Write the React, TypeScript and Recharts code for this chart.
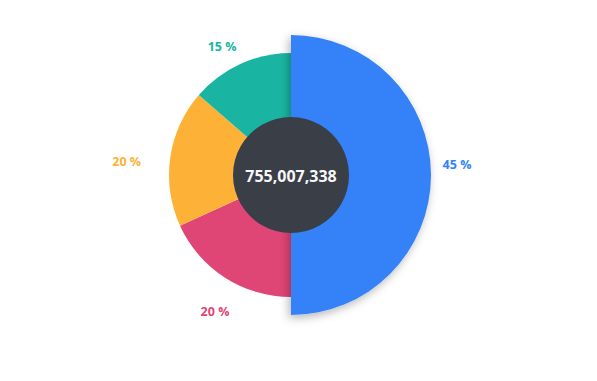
import { Cell, Label, Pie, PieChart } from 'recharts';

const NAMES = ['Blue', 'Pink', 'Orange', 'Teal'];
const VALUES = [45, 20, 20, 15];
const COLORS = ['#3481f7', '#df4575', '#fdb136', '#19b5a2'];
const TOTAL_LABEL = '755,007,338';

const slices = NAMES.map((name, i) => ({ name, value: VALUES[i], color: COLORS[i] }));
const main = slices.slice(0, 1);
const rest = slices.slice(1);
const hub = [{ name: 'total', value: 1 }];

const RADIAN = Math.PI / 180;
const CX = 291;
const CY = 175;
const FONT = "'Open Sans', sans-serif";

// labels sit on a squashed ring round the pie
function renderLabel(p: any) {
  const cos = Math.cos(p.midAngle * RADIAN);
  const up = Math.sin(p.midAngle * RADIAN);
  const rx = up >= 0 ? 166 : 166 - 36 * up * up;
  const x = p.cx + rx * cos;
  const y = p.cy - 11 * cos * cos - up * Math.abs(up) * (up > 0 ? 153 : 198);
  return (
    <text
      x={x}
      y={y}
      fill={p.payload.color}
      textAnchor="middle"
      dominantBaseline="central"
      fontSize={12.5}
      fontWeight={700}
      fontFamily={FONT}
    >
      {`${p.value} %`}
    </text>
  );
}

function CenterText() {
  return (
    <text
      x={CX}
      y={CY + 1}
      fill="#f7f7f7"
      textAnchor="middle"
      dominantBaseline="central"
      fontSize={16}
      fontWeight={700}
      fontFamily={FONT}
    >
      {TOTAL_LABEL}
    </text>
  );
}

export default function App() {
  return (
    <div style={{ position: 'absolute', left: 0, top: 0, width: 597, height: 381, background: '#fff' }}>
      <PieChart width={597} height={381} margin={{ top: 0, right: 0, bottom: 0, left: 0 }}>
        <defs>
          <filter id="sliceShadow" x="-30%" y="-30%" width="160%" height="160%">
            <feDropShadow dx={-2} dy={3} stdDeviation={5} floodColor="#000" floodOpacity={0.3} />
          </filter>
        </defs>
        <Pie
          data={rest}
          dataKey="value"
          nameKey="name"
          cx={CX}
          cy={CY}
          outerRadius={122}
          startAngle={-90}
          endAngle={-270}
          stroke="none"
          label={renderLabel}
          labelLine={false}
          isAnimationActive={false}
        >
          {rest.map((s) => (
            <Cell key={s.name} fill={s.color} />
          ))}
        </Pie>
        <Pie
          data={main}
          dataKey="value"
          nameKey="name"
          cx={CX}
          cy={CY}
          outerRadius={140}
          startAngle={90}
          endAngle={-90}
          stroke="none"
          label={renderLabel}
          labelLine={false}
          isAnimationActive={false}
        >
          {main.map((s) => (
            <Cell key={s.name} fill={s.color} filter="url(#sliceShadow)" />
          ))}
        </Pie>
        <Pie
          data={hub}
          dataKey="value"
          cx={CX}
          cy={CY}
          outerRadius={58}
          stroke="none"
          fill="#3a3e47"
          isAnimationActive={false}
        >
          <Label content={<CenterText />} />
        </Pie>
      </PieChart>
    </div>
  );
}
